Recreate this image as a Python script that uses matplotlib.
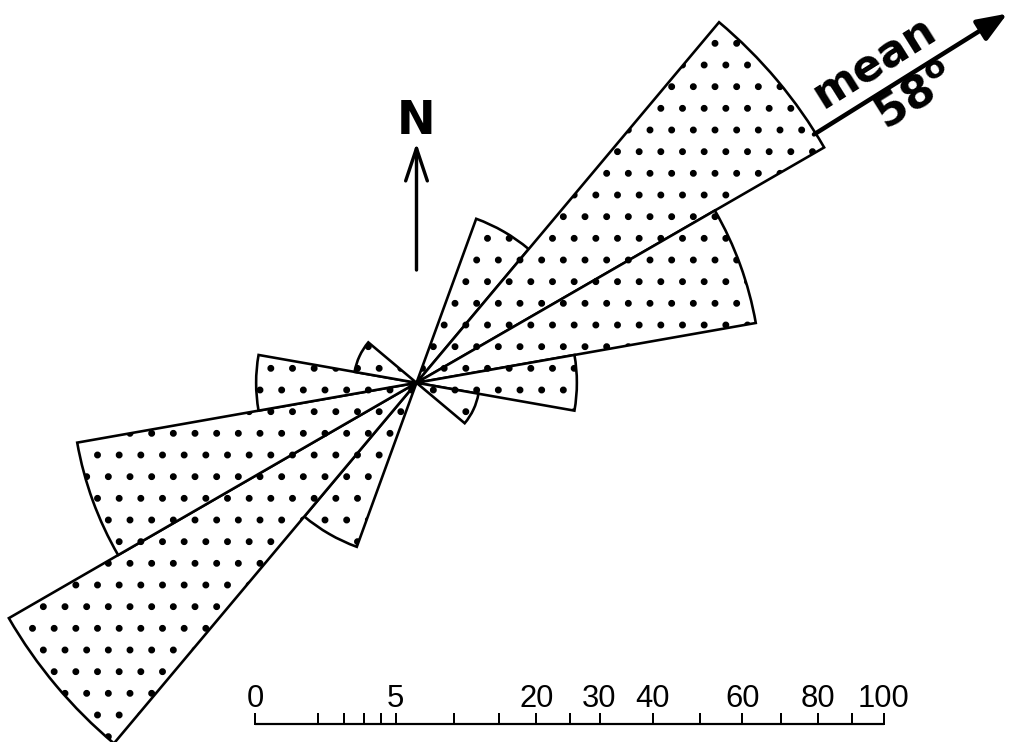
"""
Rose diagram (axial, equal-area) with mean direction and sqrt scale bar.
"""
import numpy as np
import matplotlib
matplotlib.use('Agg')
import matplotlib.pyplot as plt
from matplotlib.patches import Wedge, FancyArrowPatch

DPI = 130
W, H = 1011, 742
PT = 72 / DPI  # px -> pt

# data: class limits (azimuth deg) and percent, drawn axially (+180)
class_start = [20, 40, 60, 80, 100]
class_end = [40, 60, 80, 100, 130]
percent = [7.7, 56.0, 30.0, 6.5, 1.0]
mean_dir = 58

scale_ticks = [0, 1, 2, 3, 4, 5, 10, 15, 20, 25, 30, 40, 50, 60, 70, 80, 90, 100]
scale_labels = [0, 5, 20, 30, 40, 60, 80, 100]

# layout
CX, CY = 416.5, 382.8      # rose centre (px, y down)
K = 62.9                    # px per sqrt(percent)
BAR_X0, BAR_Y = 255, 724


def radius(v):
    return K * np.sqrt(v)


def polar(az, r):
    a = np.radians(az)
    return CX + r * np.sin(a), CY - r * np.cos(a)


plt.rcParams['hatch.linewidth'] = 1.4
plt.rcParams['hatch.color'] = 'black'

fig = plt.figure(figsize=(W / DPI, H / DPI), dpi=DPI)
ax = fig.add_axes([0, 0, 1, 1])
ax.set_xlim(0, W)
ax.set_ylim(H, 0)
ax.axis('off')

# sectors, both ends of the axis
for a1, a2, v in zip(class_start, class_end, percent):
    for off in (0, 180):
        w = Wedge((CX, CY), radius(v), a1 + off - 90, a2 + off - 90,
                  facecolor='white', edgecolor='black', linewidth=2.6 * PT,
                  hatch='.')
        ax.add_patch(w)

# mean direction arrow
r0 = radius(max(percent)) - 2
r1 = r0 + 228
p0 = polar(mean_dir, r0)
p1 = polar(mean_dir, r1)
ax.add_patch(FancyArrowPatch(p0, p1, arrowstyle='-|>,head_length=1.4,head_width=0.55',
                             mutation_scale=10, color='black', linewidth=4.5 * PT,
                             shrinkA=0, shrinkB=0))

a = np.radians(mean_dir)
u = np.array([np.sin(a), -np.cos(a)])
n = np.array([-np.cos(a), -np.sin(a)])
c = np.array([CX, CY])
t_mean = c + 558 * u + 29 * n
t_deg = c + 574 * u - 22 * n
ax.text(*t_mean, 'mean', rotation=90 - mean_dir, rotation_mode='anchor',
        ha='center', va='center', fontsize=44 * PT, fontweight='bold')
ax.text(*t_deg, r'58$^{\mathbf{o}}$', rotation=90 - mean_dir, rotation_mode='anchor',
        ha='center', va='center', fontsize=45 * PT, fontweight='bold')

# north arrow
ax.add_patch(FancyArrowPatch((CX, 270), (CX, 143),
                             arrowstyle='->,head_length=1.8,head_width=0.6',
                             mutation_scale=10, color='black', linewidth=3.4 * PT,
                             shrinkA=0, shrinkB=0))
ax.text(CX, 122, 'N', ha='center', va='center', fontsize=46 * PT,
        fontweight='bold')

# scale bar (sqrt of percent)
bar_end = BAR_X0 + radius(max(scale_ticks))
ax.plot([BAR_X0, bar_end], [BAR_Y, BAR_Y], color='black', linewidth=2.2 * PT,
        solid_capstyle='butt')
for t in scale_ticks:
    x = BAR_X0 + radius(t)
    ax.plot([x, x], [BAR_Y, BAR_Y - 10], color='black', linewidth=2 * PT)
for t in scale_labels:
    x = BAR_X0 + radius(t)
    ax.text(x, 707, str(t), ha='center', va='baseline', fontsize=31 * PT,
            family=['Liberation Sans Narrow', 'Liberation Sans', 'DejaVu Sans'])

fig.savefig('out.png', dpi=DPI, facecolor='white')
